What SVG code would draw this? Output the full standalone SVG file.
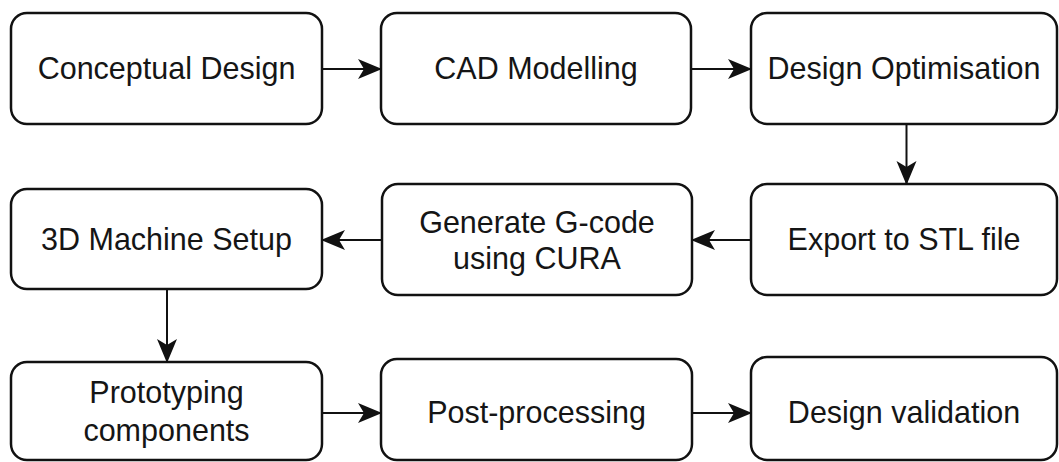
<svg xmlns="http://www.w3.org/2000/svg" width="1059" height="462" viewBox="0 0 1059 462">
  <style>
    .box { fill: #ffffff; stroke: #111111; stroke-width: 2.5; }
    .lbl { font-family: "Liberation Sans", Arial, sans-serif; font-size: 30.5px; fill: #151515; text-anchor: middle; }
    .edge { fill: none; stroke: #111111; stroke-width: 2; }
  </style>
  <defs>
    <marker id="head" viewBox="0 0 24 22" refX="23" refY="11" markerWidth="24" markerHeight="22" markerUnits="userSpaceOnUse" orient="auto">
      <path d="M0,1 L24,11 L0,21 L6,11 Z" fill="#111111"/>
    </marker>
  </defs>
  <rect width="1059" height="462" fill="#ffffff"/>

  <!-- row 1 -->
  <g id="conceptual-design">
    <rect class="box" x="11" y="13" width="311" height="111" rx="16"/>
    <text class="lbl" x="166.5" y="79">Conceptual Design</text>
  </g>
  <g id="cad-modelling">
    <rect class="box" x="381" y="13" width="310" height="111" rx="16"/>
    <text class="lbl" x="536" y="79">CAD Modelling</text>
  </g>
  <g id="design-optimisation">
    <rect class="box" x="751" y="13" width="306" height="111" rx="16"/>
    <text class="lbl" x="904" y="79">Design Optimisation</text>
  </g>

  <!-- row 2 -->
  <g id="machine-setup">
    <rect class="box" x="11" y="189" width="311" height="100" rx="16"/>
    <text class="lbl" x="166.5" y="250">3D Machine Setup</text>
  </g>
  <g id="generate-gcode">
    <rect class="box" x="382" y="184" width="310" height="111" rx="16"/>
    <text class="lbl" x="537" y="233">Generate G-code</text>
    <text class="lbl" x="537" y="269">using CURA</text>
  </g>
  <g id="export-stl">
    <rect class="box" x="751" y="184" width="306" height="111" rx="16"/>
    <text class="lbl" x="904" y="250">Export to STL file</text>
  </g>

  <!-- row 3 -->
  <g id="prototyping">
    <rect class="box" x="11" y="362" width="311" height="98" rx="16"/>
    <text class="lbl" x="166.5" y="403">Prototyping</text>
    <text class="lbl" x="166.5" y="441">components</text>
  </g>
  <g id="post-processing">
    <rect class="box" x="381" y="359" width="311" height="101" rx="16"/>
    <text class="lbl" x="536.5" y="423">Post-processing</text>
  </g>
  <g id="design-validation">
    <rect class="box" x="751" y="357" width="306" height="103" rx="16"/>
    <text class="lbl" x="904" y="423">Design validation</text>
  </g>

  <!-- connectors -->
  <g id="connectors">
    <path class="edge" d="M322,69 L381,69" marker-end="url(#head)"/>
    <path class="edge" d="M691,69 L751,69" marker-end="url(#head)"/>
    <path class="edge" d="M906.5,124 L906.5,184" marker-end="url(#head)"/>
    <path class="edge" d="M751,240 L692,240" marker-end="url(#head)"/>
    <path class="edge" d="M382,240 L322,240" marker-end="url(#head)"/>
    <path class="edge" d="M167,289 L167,362" marker-end="url(#head)"/>
    <path class="edge" d="M322,413 L381,413" marker-end="url(#head)"/>
    <path class="edge" d="M692,413 L751,413" marker-end="url(#head)"/>
  </g>
</svg>
